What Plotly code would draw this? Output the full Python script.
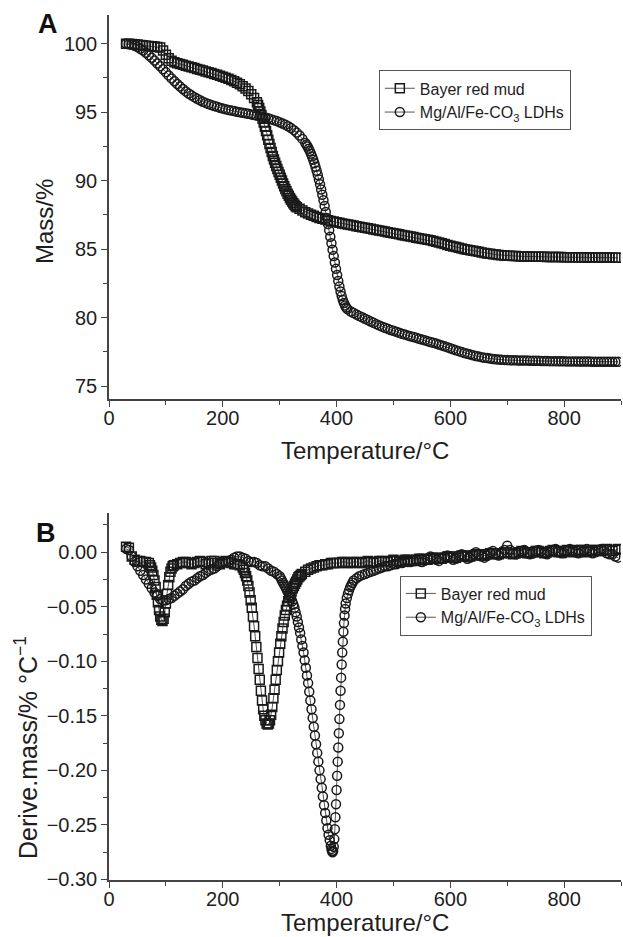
import plotly.graph_objects as go

# ---------------- Panel A: TG curves (Mass %) ----------------
bayer_A_T = list(range(30, 261, 5)) + list(range(262, 331, 2)) + list(range(335, 896, 5))
bayer_A_M = [
    100.00, 100.00, 99.98, 99.96, 99.94, 99.91, 99.89, 99.86, 99.84, 99.82, 99.80, 99.77,
    99.72, 99.50, 99.20, 98.95,
    98.75, 98.65, 98.58, 98.52, 98.46, 98.40, 98.34, 98.28, 98.22, 98.16, 98.10, 98.04,
    97.98, 97.92, 97.86, 97.80, 97.73, 97.66, 97.59, 97.52, 97.44, 97.36, 97.27, 97.16,
    97.04, 96.90, 96.74, 96.55, 96.32, 96.04, 95.72,
    95.52, 95.30, 95.06, 94.80, 94.53, 94.24, 93.94, 93.63, 93.31, 92.99,
    92.68, 92.38, 92.09, 91.81, 91.55, 91.30, 91.07, 90.85, 90.64, 90.43,
    90.22, 90.01, 89.80, 89.60, 89.40, 89.22, 89.05, 88.89, 88.74, 88.60,
    88.47, 88.35, 88.24, 88.14, 88.05,
    87.95, 87.82, 87.70, 87.60, 87.51, 87.43, 87.35, 87.28, 87.22, 87.16,
    87.11, 87.06, 87.01, 86.96, 86.92, 86.88, 86.84, 86.80, 86.76, 86.72,
    86.68, 86.64, 86.60, 86.56, 86.52, 86.48, 86.44, 86.40, 86.36, 86.32,
    86.28, 86.24, 86.20, 86.16, 86.12, 86.08, 86.04, 86.00, 85.96, 85.92,
    85.88, 85.84, 85.80, 85.76, 85.72,
    85.68, 85.64, 85.59, 85.54, 85.49, 85.43, 85.37, 85.31, 85.25, 85.20,
    85.15, 85.10, 85.05, 85.00, 84.96, 84.92, 84.88, 84.84, 84.80, 84.76,
    84.72, 84.69, 84.66, 84.63, 84.60, 84.58, 84.56, 84.54, 84.52, 84.51,
    84.50, 84.49, 84.48,
    84.47, 84.47, 84.46, 84.46, 84.45, 84.45, 84.44, 84.44, 84.44, 84.43,
    84.43, 84.43, 84.42, 84.42, 84.42, 84.41, 84.41, 84.41, 84.40, 84.40,
    84.40, 84.40, 84.39, 84.39, 84.39, 84.39, 84.38, 84.38, 84.38, 84.38,
    84.38, 84.37, 84.37, 84.37, 84.37,
]

ldh_A_T = list(range(30, 346, 5)) + list(range(347, 420, 2)) + list(range(425, 896, 5))
ldh_A_M = [
    100.00, 99.97, 99.92, 99.85, 99.76, 99.64, 99.50, 99.34, 99.16, 98.97,
    98.77, 98.56, 98.35, 98.13, 97.91, 97.69, 97.47, 97.26, 97.06, 96.87,
    96.69, 96.52, 96.37, 96.23, 96.10, 95.98, 95.87, 95.77, 95.68, 95.60,
    95.52, 95.45, 95.39, 95.33, 95.27, 95.22, 95.17, 95.12, 95.08, 95.04,
    95.00, 94.96, 94.92, 94.88, 94.84, 94.80, 94.76, 94.71, 94.66, 94.61,
    94.55, 94.49, 94.42, 94.35, 94.27, 94.18, 94.08, 93.97, 93.84, 93.69,
    93.51, 93.30, 93.05, 92.76,
    92.63, 92.49, 92.33, 92.16, 91.97, 91.76, 91.53, 91.28, 91.01, 90.72,
    90.41, 90.08, 89.73, 89.36, 88.97, 88.57, 88.15, 87.72, 87.28, 86.83,
    86.37, 85.90, 85.43, 84.96, 84.49, 84.02, 83.56, 83.11, 82.68, 82.27,
    81.90, 81.57, 81.29, 81.06, 80.88, 80.74, 80.63,
    80.45, 80.33, 80.22, 80.12, 80.02, 79.92, 79.82, 79.72, 79.62, 79.52,
    79.43, 79.34, 79.26, 79.18, 79.10, 79.03, 78.96, 78.89, 78.82, 78.76,
    78.70, 78.64, 78.58, 78.52, 78.46, 78.40, 78.34, 78.28, 78.22, 78.16,
    78.10, 78.04, 77.97, 77.90, 77.83, 77.76, 77.69, 77.62, 77.55, 77.48,
    77.42, 77.36, 77.30, 77.25, 77.20, 77.15, 77.11, 77.07, 77.04, 77.01,
    76.98, 76.96, 76.94, 76.92, 76.91, 76.90,
    76.89, 76.88, 76.88, 76.87, 76.87, 76.86, 76.86, 76.85, 76.85, 76.84,
    76.84, 76.83, 76.83, 76.83, 76.82, 76.82, 76.82, 76.81, 76.81, 76.81,
    76.80, 76.80, 76.80, 76.80, 76.79, 76.79, 76.79, 76.79, 76.79, 76.78,
    76.78, 76.78, 76.78, 76.78, 76.78, 76.77, 76.77, 76.77, 76.77,
]

# ---------------- Panel B: DTG curves ----------------
bayer_B_T = (list(range(30, 71, 5)) + list(range(72, 115, 2)) + list(range(120, 236, 5))
             + list(range(237, 340, 2)) + list(range(345, 896, 5)))
bayer_B_D = [
    0.005, 0.004, -0.004, -0.007, -0.008, -0.008, -0.009, -0.009, -0.010,
    -0.012, -0.014, -0.017, -0.021, -0.026, -0.032, -0.039, -0.046, -0.053, -0.059,
    -0.062, -0.063, -0.061, -0.055, -0.047, -0.038, -0.030, -0.023, -0.018, -0.015,
    -0.013, -0.012,
    -0.011, -0.010, -0.009, -0.009, -0.010, -0.011, -0.010, -0.009, -0.008, -0.009,
    -0.011, -0.010, -0.008, -0.008, -0.010, -0.011, -0.009, -0.008, -0.009, -0.010,
    -0.011, -0.011, -0.012, -0.014,
    -0.016, -0.019, -0.022, -0.026, -0.031, -0.037, -0.044, -0.051, -0.059, -0.068,
    -0.077, -0.087, -0.097, -0.107, -0.117, -0.127, -0.136, -0.144, -0.150, -0.154,
    -0.157, -0.158, -0.157, -0.154, -0.149, -0.142, -0.134, -0.126, -0.117, -0.108,
    -0.100, -0.092, -0.084, -0.077, -0.070, -0.064, -0.058, -0.053, -0.049, -0.045,
    -0.042, -0.039, -0.036, -0.033, -0.031, -0.029, -0.027, -0.025, -0.023, -0.022,
    -0.021, -0.020,
    -0.018, -0.016, -0.015, -0.014, -0.013, -0.012, -0.012, -0.011, -0.011, -0.010, -0.010,
    -0.010, -0.010, -0.009, -0.009, -0.010, -0.010, -0.009, -0.009, -0.010, -0.010,
    -0.009, -0.008, -0.009, -0.010, -0.009, -0.008, -0.008, -0.009, -0.009, -0.008,
    -0.007, -0.008, -0.009, -0.008, -0.007, -0.007, -0.008, -0.008, -0.007, -0.006,
    -0.006, -0.007, -0.007, -0.006, -0.005, -0.005, -0.006, -0.006, -0.005, -0.004,
    -0.004, -0.005, -0.005, -0.004, -0.003, -0.003, -0.004, -0.004, -0.003, -0.002,
    -0.002, -0.003, -0.003, -0.002, -0.001, -0.001, -0.002, -0.002, -0.001, 0.000,
    0.000, -0.001, -0.002, -0.001, 0.000, 0.001, 0.000, -0.001, -0.001, 0.000,
    0.001, 0.001, 0.000, -0.001, 0.000, 0.001, 0.002, 0.001, 0.000, 0.000,
    0.001, 0.002, 0.001, 0.000, 0.001, 0.002, 0.002, 0.001, 0.000, 0.001,
    0.002, 0.002, 0.001, 0.001, 0.002, 0.003, 0.002, 0.001, 0.002, 0.003,
]

ldh_B_T = (list(range(30, 301, 5)) + list(range(302, 391, 2)) + list(range(391, 417, 1))
           + list(range(418, 431, 2)) + list(range(435, 896, 5)))
ldh_B_D = [
    0.003, 0.002, -0.004, -0.009, -0.013, -0.017, -0.021, -0.025, -0.029, -0.033,
    -0.037, -0.040, -0.043, -0.044, -0.044, -0.043, -0.042, -0.040, -0.038, -0.036,
    -0.034, -0.031, -0.029, -0.027, -0.026, -0.024, -0.022, -0.021, -0.019, -0.017,
    -0.016, -0.015, -0.013, -0.011, -0.010, -0.009, -0.008, -0.007, -0.005, -0.004,
    -0.004, -0.005, -0.006, -0.008, -0.009, -0.009, -0.010, -0.012, -0.013, -0.013,
    -0.015, -0.017, -0.018, -0.020, -0.022,
    -0.024, -0.026, -0.028, -0.030, -0.032, -0.034, -0.036, -0.038, -0.040, -0.042,
    -0.045, -0.048, -0.051, -0.055, -0.059, -0.064, -0.069, -0.074, -0.080, -0.086,
    -0.092, -0.099, -0.106, -0.113, -0.120, -0.128, -0.136, -0.144, -0.152, -0.160,
    -0.168, -0.176, -0.184, -0.192, -0.200, -0.208, -0.216, -0.224, -0.232, -0.239,
    -0.246, -0.253, -0.259, -0.264, -0.269,
    -0.272, -0.274, -0.275, -0.274, -0.270, -0.263, -0.254, -0.243, -0.231, -0.218,
    -0.205, -0.192, -0.179, -0.166, -0.153, -0.140, -0.127, -0.115, -0.103, -0.092,
    -0.082, -0.073, -0.065, -0.058, -0.052, -0.047,
    -0.042, -0.038, -0.035, -0.032, -0.030, -0.028, -0.026,
    -0.024, -0.022, -0.021, -0.020, -0.019, -0.018, -0.017, -0.016, -0.015, -0.014,
    -0.013, -0.013, -0.012, -0.011, -0.011, -0.010, -0.010, -0.009, -0.009, -0.009,
    -0.008, -0.007, -0.008, -0.009, -0.008, -0.006, -0.004, -0.005, -0.007, -0.008,
    -0.006, -0.004, -0.003, -0.005, -0.007, -0.006, -0.003, -0.002, -0.004, -0.006,
    -0.005, -0.002, 0.000, -0.002, -0.004, -0.005, -0.003, 0.000, 0.001, -0.001,
    -0.003, -0.001, 0.002, 0.006, 0.002, -0.001, -0.002, -0.001, 0.001, 0.002,
    0.000, -0.002, -0.001, 0.001, 0.002, 0.001, -0.001, -0.002, 0.000, 0.002,
    0.003, 0.001, -0.001, -0.001, 0.001, 0.003, 0.002, 0.000, -0.001, 0.000,
    0.002, 0.003, 0.001, -0.001, 0.000, 0.002, 0.003, 0.001, -0.001, -0.002,
    -0.002, -0.004, -0.005,
]

for name, xs, ys in [("bayer_A", bayer_A_T, bayer_A_M), ("ldh_A", ldh_A_T, ldh_A_M),
                     ("bayer_B", bayer_B_T, bayer_B_D), ("ldh_B", ldh_B_T, ldh_B_D)]:
    if len(xs) != len(ys):
        raise ValueError(f"{name}: {len(xs)} T vs {len(ys)} values")

series_names = ["Bayer red mud", "Mg/Al/Fe-CO<sub>3</sub> LDHs"]
x_title = "Temperature/°C"
yA_title = "Mass/%"
yB_title = "Derive.mass/% °C<sup>−1</sup>"

FONT = "Liberation Sans, Arial, Helvetica, sans-serif"
INK = "#1e1e1e"
EDGE = "#1a1a1a"
LINEC = "#555555"
AX = "#444444"

def trace(x, y, symbol, name, xa, ya, leg):
    return go.Scatter(
        x=x, y=y, mode="lines+markers", name=name,
        xaxis=xa, yaxis=ya, legend=leg,
        line=dict(color=LINEC, width=1),
        marker=dict(symbol=symbol, size=9, color=EDGE,
                    line=dict(color=EDGE, width=1.5)),
    )

fig = go.Figure()
fig.add_trace(trace(bayer_A_T, bayer_A_M, "square-open", series_names[0], "x", "y", "legend"))
fig.add_trace(trace(ldh_A_T, ldh_A_M, "circle-open", series_names[1], "x", "y", "legend"))
fig.add_trace(trace(bayer_B_T, bayer_B_D, "square-open", series_names[0], "x2", "y2", "legend2"))
fig.add_trace(trace(ldh_B_T, ldh_B_D, "circle-open", series_names[1], "x2", "y2", "legend2"))

axis_common = dict(
    showline=True, linecolor=AX, linewidth=1.5,
    ticks="outside", ticklen=6, tickwidth=1.2, tickcolor=AX,
    showgrid=False, zeroline=False, mirror=False, automargin=False,
    tickfont=dict(family=FONT, size=20, color=INK),
)

xaxis_common = dict(axis_common, range=[0, 900], dtick=200, tick0=0, ticklabelstandoff=-6,
                    minor=dict(dtick=100, ticks="outside", ticklen=4, tickcolor=AX))

legend_common = dict(
    bgcolor="white", bordercolor="#555555", borderwidth=1,
    font=dict(family=FONT, size=16, color=INK),
    xanchor="left", yanchor="top", tracegroupgap=0,
)

title_font = dict(family=FONT, size=24, color=INK)
titleB_font = dict(family=FONT, size=25, color=INK)
letter_font = dict(family=FONT, size=27, color="#111111")

fig.update_layout(
    width=623, height=937,
    margin=dict(l=109, r=2, t=15, b=57, autoexpand=False),
    paper_bgcolor="white", plot_bgcolor="white",
    showlegend=True,
    xaxis=dict(xaxis_common, domain=[0, 1], anchor="y"),
    yaxis=dict(axis_common, domain=[0.556, 1.0], anchor="x", range=[74.05, 102.1],
               dtick=5, tick0=75,
               minor=dict(dtick=2.5, ticks="outside", ticklen=4, tickcolor=AX)),
    xaxis2=dict(xaxis_common, domain=[0, 1], anchor="y2"),
    yaxis2=dict(axis_common, domain=[0, 0.424], anchor="x2", range=[-0.3005, 0.0357],
                dtick=0.05, tick0=0, tickformat=".2f",
                minor=dict(dtick=0.025, ticks="outside", ticklen=4, tickcolor=AX)),
    legend=dict(legend_common, x=0.527, y=0.936),
    legend2=dict(legend_common, x=0.568, y=0.352),
    annotations=[
        dict(text="<b>A</b>", x=-0.119, y=0.990, xref="paper", yref="paper",
             showarrow=False, xanchor="center", yanchor="middle", font=letter_font),
        dict(text="<b>B</b>", x=-0.123, y=0.401, xref="paper", yref="paper",
             showarrow=False, xanchor="center", yanchor="middle", font=letter_font),
        dict(text=x_title, x=0.5, y=(880 - 450) / 865, xref="paper", yref="paper",
             showarrow=False, xanchor="center", yanchor="middle", font=title_font),
        dict(text=x_title, x=0.5, y=(880 - 922) / 865, xref="paper", yref="paper",
             showarrow=False, xanchor="center", yanchor="middle", font=title_font),
        dict(text=yA_title, x=(44 - 109) / 512, y=(880 - 222) / 865, xref="paper", yref="paper",
             showarrow=False, xanchor="center", yanchor="middle", textangle=-90,
             font=title_font),
        dict(text=yB_title, x=(26 - 109) / 512, y=(880 - 748) / 865, xref="paper", yref="paper",
             showarrow=False, xanchor="center", yanchor="middle", textangle=-90,
             font=titleB_font),
    ],
)

fig.write_html(
    "out.html",
    config={"displayModeBar": False},
    post_script="document.body.style.margin='0';document.body.style.padding='0';"
                "document.body.style.overflow='hidden';",
)
